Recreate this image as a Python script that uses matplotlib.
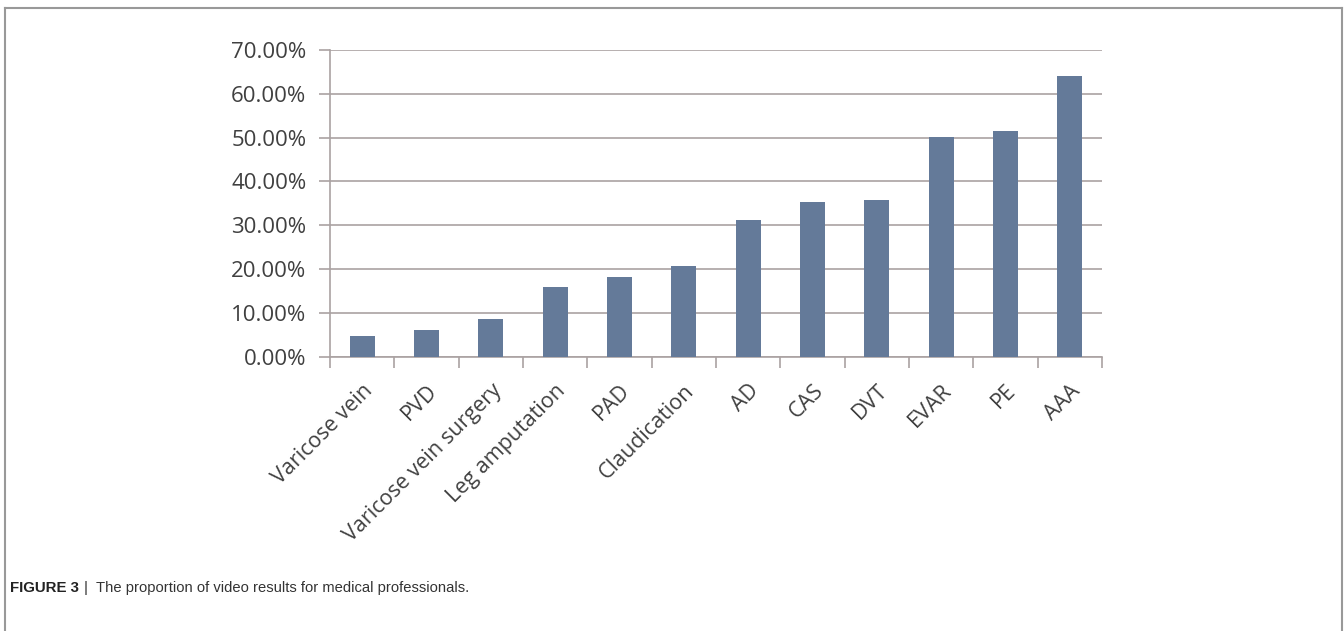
import matplotlib.pyplot as plt
from matplotlib.lines import Line2D
from matplotlib.ticker import FuncFormatter, FixedLocator

categories = ["Varicose vein", "PVD", "Varicose vein surgery", "Leg amputation", "PAD",
              "Claudication", "AD", "CAS", "DVT", "EVAR", "PE", "AAA"]
values = [0.048, 0.062, 0.087, 0.159, 0.182, 0.208, 0.313, 0.352, 0.358, 0.502, 0.515, 0.641]
yticks = [0.0, 0.1, 0.2, 0.3, 0.4, 0.5, 0.6, 0.7]

bar_color = "#647a99"
grid_color = "#aaa2a2"
text_color = "#404040"

fig = plt.figure(figsize=(13.44, 6.31), dpi=100)
ax = fig.add_axes([330 / 1344, 1 - 356.7 / 631, (1102 - 330) / 1344, (356.7 - 50) / 631])

x = list(range(len(categories)))
ax.bar(x, values, width=0.39, color=bar_color, zorder=3)

ax.set_xlim(-0.5, len(categories) - 0.5)
ax.set_ylim(0, 0.7)
ax.set_yticks(yticks)
ax.yaxis.set_major_formatter(FuncFormatter(lambda v, p: f"{v * 100:.2f}%"))
ax.grid(axis="y", color=grid_color, linewidth=1.2, zorder=0)

# tick marks between the categories, like Excel
ax.set_xticks(x)
ax.set_xticklabels(categories, rotation=45, ha="right", rotation_mode="anchor",
                   fontsize=15.5, family="Open Sans", color=text_color)
ax.tick_params(axis="x", length=0, pad=17)
ax.xaxis.set_minor_locator(FixedLocator([i - 0.5 for i in range(len(categories) + 1)]))
ax.tick_params(axis="x", which="minor", length=8, width=1.2, color=grid_color)
ax.tick_params(axis="y", length=8, width=1.2, color=grid_color, labelsize=16,
               labelcolor=text_color, pad=9)
for lab in ax.get_yticklabels():
    lab.set_family("Open Sans")

for side in ["top", "right"]:
    ax.spines[side].set_visible(False)
for side in ["left", "bottom"]:
    ax.spines[side].set_color(grid_color)
    ax.spines[side].set_linewidth(1.2)

# outer frame
frame_color = "#999999"
fig.add_artist(Line2D([5 / 1344, 5 / 1344], [0, 1 - 8 / 631], color=frame_color, lw=1.5))
fig.add_artist(Line2D([5 / 1344, 1342 / 1344], [1 - 8 / 631, 1 - 8 / 631], color=frame_color, lw=1.5))
fig.add_artist(Line2D([1342 / 1344, 1342 / 1344], [0, 1 - 8 / 631], color=frame_color, lw=1.5))

# caption
t1 = fig.text(10 / 1344, 1 - 588 / 631, "FIGURE 3", fontsize=10.8, fontweight="bold",
              family=["Liberation Sans Narrow", "Liberation Sans"], color="#222222", va="center")
fig.canvas.draw()
bb = t1.get_window_extent()
fig.text((bb.x1 + 5) / 1344, 1 - 588 / 631, "|  The proportion of video results for medical professionals.",
         fontsize=10.6, family=["Liberation Sans Narrow", "Liberation Sans"], color="#333333", va="center")

fig.savefig("out.png", dpi=100)
